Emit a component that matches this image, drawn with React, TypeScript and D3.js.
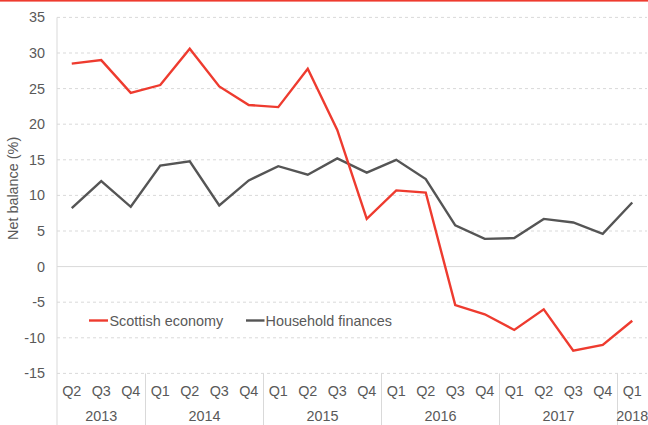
import React from "react";
import * as d3 from "d3";

const quarters = ["Q2","Q3","Q4","Q1","Q2","Q3","Q4","Q1","Q2","Q3","Q4","Q1","Q2","Q3","Q4","Q1","Q2","Q3","Q4","Q1"];
const years = ["2013","2014","2015","2016","2017","2018"];
const yearCounts = [3, 4, 4, 4, 4, 1];
const scottishEconomy = [28.5, 29.0, 24.4, 25.5, 30.6, 25.3, 22.7, 22.4, 27.8, 19.2, 6.7, 10.7, 10.4, -5.4, -6.7, -8.9, -6.0, -11.8, -11.0, -7.6];
const householdFinances = [8.2, 12.0, 8.4, 14.2, 14.8, 8.6, 12.1, 14.1, 12.9, 15.2, 13.2, 15.0, 12.3, 5.8, 3.9, 4.0, 6.7, 6.2, 4.6, 9.0];
const yTicks = [35, 30, 25, 20, 15, 10, 5, 0, -5, -10, -15];
const seriesNames = ["Scottish economy", "Household finances"];

const W = 648, H = 425;
const left = 57, right = 647, top = 17.4, bottom = 373.4;
const RED = "#ee3b2f";
const GREY = "#555555";
const TEXT = "#595959";
const FONT = "'Liberation Sans', Arial, sans-serif";
const FS = 14.4;

export default function App() {
  const idx = quarters.map((_, i) => i);
  const x = d3.scaleBand<number>().domain(idx).range([left, right]).paddingInner(0).paddingOuter(0);
  const y = d3.scaleLinear().domain([-15, 35]).range([bottom, top]);
  const cx = (i: number) => (x(i) as number) + x.bandwidth() / 2;
  const line = d3.line<number>().x((_, i) => cx(i)).y((d) => y(d));

  const bounds: number[] = [0];
  yearCounts.forEach((c, k) => bounds.push(bounds[k] + c));

  return (
    <svg width={W} height={H} style={{ position: "absolute", left: 0, top: 0, background: "#fff" }} fontFamily={FONT}>
      <rect x={0} y={0} width={W} height={1.6} fill={RED} />
      {yTicks.map((t) => (
        <g key={t}>
          {t === 0 ? (
            <line x1={left} x2={right} y1={y(t)} y2={y(t)} stroke="#d9d9d9" strokeWidth={1} />
          ) : (
            <line x1={left} x2={right} y1={y(t)} y2={y(t)} stroke="#d9d9d9" strokeWidth={1} strokeDasharray="3,3" />
          )}
          <text x={45} y={y(t)} dy="0.35em" textAnchor="end" fontSize={FS} fill={TEXT}>{t}</text>
        </g>
      ))}
      <line x1={left} x2={left} y1={top} y2={H} stroke="#d9d9d9" strokeWidth={1} />
      {bounds.slice(1, -1).map((b, k) => (
        <line key={k} x1={x(b) as number} x2={x(b) as number} y1={bottom} y2={H} stroke="#d9d9d9" strokeWidth={1} />
      ))}
      {quarters.map((q, i) => (
        <text key={i} x={cx(i)} y={391} dy="0.35em" textAnchor="middle" fontSize={FS} fill={TEXT}>{q}</text>
      ))}
      {years.map((yr, k) => {
        const x0 = x(bounds[k]) as number;
        const x1 = bounds[k + 1] < quarters.length ? (x(bounds[k + 1]) as number) : right;
        return (
          <text key={yr} x={(x0 + x1) / 2} y={416} dy="0.35em" textAnchor="middle" fontSize={FS} fill={TEXT}>{yr}</text>
        );
      })}
      <text transform={`translate(13,${(top + bottom) / 2 - 7}) rotate(-90)`} textAnchor="middle" dy="0.35em" fontSize={FS} fill={TEXT}>Net balance (%)</text>
      <path d={line(householdFinances) || ""} fill="none" stroke={GREY} strokeWidth={2.4} strokeLinejoin="miter" />
      <path d={line(scottishEconomy) || ""} fill="none" stroke={RED} strokeWidth={2.4} strokeLinejoin="miter" />
      <g>
        <line x1={89} x2={108} y1={320.5} y2={320.5} stroke={RED} strokeWidth={2.4} />
        <text x={109.5} y={320.5} dy="0.35em" fontSize={FS} fill={TEXT}>{seriesNames[0]}</text>
        <line x1={246} x2={264.5} y1={320.5} y2={320.5} stroke={GREY} strokeWidth={2.4} />
        <text x={265.5} y={320.5} dy="0.35em" fontSize={FS} fill={TEXT}>{seriesNames[1]}</text>
      </g>
    </svg>
  );
}
